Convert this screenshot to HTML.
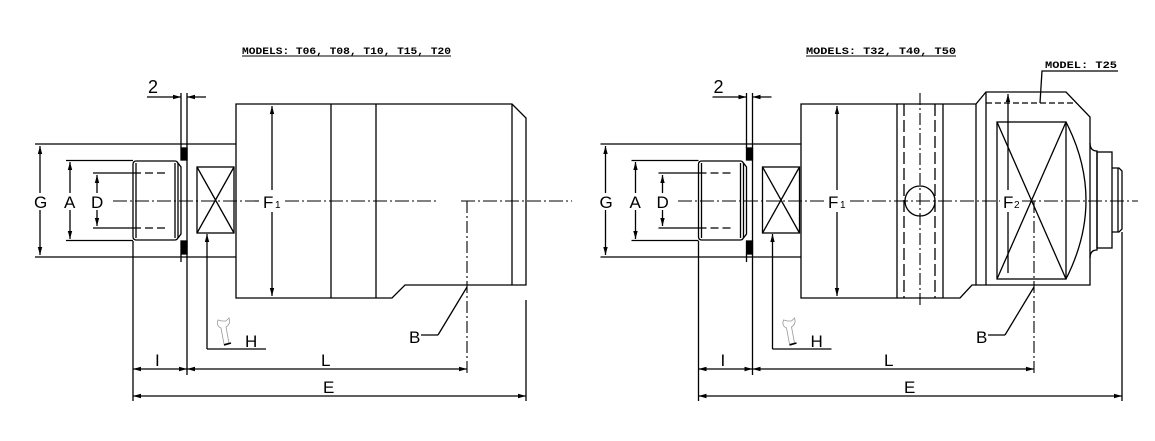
<!DOCTYPE html>
<html><head><meta charset="utf-8"><style>
html,body{margin:0;padding:0;background:#fff;}
svg{display:block;}
text{font-family:"Liberation Sans",sans-serif;fill:#000;}
.t{font-family:"Liberation Mono",monospace;font-size:10px;font-weight:bold;}
.l{font-size:17px;}
</style></head><body>
<svg width="1155" height="441" viewBox="0 0 1155 441" xmlns="http://www.w3.org/2000/svg">
<defs>
<marker id="a" viewBox="0 0 8 6" refX="8" refY="3" markerWidth="8" markerHeight="6" markerUnits="userSpaceOnUse" orient="auto-start-reverse"><path d="M0,0.8 L8,3 L0,5.2 Z" fill="#000"/></marker>
</defs>
<g stroke="#000" stroke-width="1.3" fill="none">
<g id="c1">
<line x1="35" y1="144" x2="236" y2="144"/>
<line x1="35" y1="257" x2="236" y2="257"/>
<line x1="40" y1="146" x2="40" y2="255" marker-start="url(#a)" marker-end="url(#a)"/>
<line x1="66" y1="160.5" x2="133" y2="160.5"/>
<line x1="66" y1="240.5" x2="133" y2="240.5"/>
<line x1="70" y1="162" x2="70" y2="239" marker-start="url(#a)" marker-end="url(#a)"/>
<line x1="93" y1="173" x2="133" y2="173"/>
<line x1="93" y1="228" x2="133" y2="228"/>
<line x1="133" y1="173" x2="167" y2="173" stroke-dasharray="8 4"/>
<line x1="133" y1="228" x2="167" y2="228" stroke-dasharray="8 4"/>
<line x1="97" y1="175" x2="97" y2="226" marker-start="url(#a)" marker-end="url(#a)"/>
<rect x="133" y="161" width="45" height="79" rx="3"/>
<line x1="136" y1="163" x2="136" y2="238"/>
<line x1="175" y1="163" x2="175" y2="238"/>
<path d="M178,163 L181,167 V234 L178,238"/>
<line x1="181" y1="93" x2="181" y2="148"/>
<line x1="181" y1="254" x2="181" y2="262"/>
<line x1="187" y1="93" x2="187" y2="375"/>
<rect x="181" y="148" width="6" height="12" fill="#000"/>
<rect x="181" y="241" width="6" height="13" fill="#000"/>
<line x1="147" y1="97" x2="181" y2="97" marker-end="url(#a)"/>
<line x1="206" y1="97" x2="187" y2="97" marker-end="url(#a)"/>
<rect x="197" y="167" width="37" height="66"/>
<line x1="197" y1="167" x2="234" y2="233"/>
<line x1="234" y1="167" x2="197" y2="233"/>
<line x1="207" y1="349" x2="207" y2="234" marker-end="url(#a)"/>
<line x1="207" y1="349" x2="266" y2="349"/>
<path d="M218,320 Q216,326 221,328 L224,344 L229,343 L226,327 Q231,324 229,318 L226,321 L222,321 Z" stroke="#999" stroke-width="0.8"/>
<line x1="224" y1="345" x2="231" y2="343" stroke-width="1.6"/>
<line x1="133" y1="241" x2="133" y2="401"/>
<line x1="133" y1="369" x2="187" y2="369" marker-start="url(#a)" marker-end="url(#a)"/>
</g>
<line x1="113" y1="201" x2="262" y2="201" stroke-dasharray="14 3 2 3" stroke-width="1.1"/>
<line x1="285" y1="201" x2="436" y2="201" stroke-dasharray="14 3 2 3" stroke-width="1.1"/>
<line x1="461" y1="201" x2="572" y2="201" stroke-dasharray="14 3 2 3" stroke-width="1.1"/>
<path d="M236,104 H512 L526,118 V285 H405 L392,298 H236 Z"/>
<line x1="512" y1="104" x2="512" y2="285"/>
<line x1="331" y1="104" x2="331" y2="298"/>
<line x1="376" y1="104" x2="376" y2="298"/>
<line x1="272" y1="106" x2="272" y2="190" marker-start="url(#a)"/>
<line x1="272" y1="212" x2="272" y2="296" marker-end="url(#a)"/>
<line x1="467" y1="201" x2="467" y2="375" stroke-dasharray="12 3 2 3" stroke-width="1.1"/>
<path d="M438,335 L467,287"/>
<line x1="421" y1="335" x2="438" y2="335"/>
<line x1="526" y1="300" x2="526" y2="401"/>
<line x1="187" y1="369" x2="467" y2="369" marker-start="url(#a)" marker-end="url(#a)"/>
<line x1="133" y1="396" x2="526" y2="396" marker-start="url(#a)" marker-end="url(#a)"/>
<g transform="translate(565.5 0)">
<line x1="35" y1="144" x2="236" y2="144"/>
<line x1="35" y1="257" x2="236" y2="257"/>
<line x1="40" y1="146" x2="40" y2="255" marker-start="url(#a)" marker-end="url(#a)"/>
<line x1="66" y1="160.5" x2="133" y2="160.5"/>
<line x1="66" y1="240.5" x2="133" y2="240.5"/>
<line x1="70" y1="162" x2="70" y2="239" marker-start="url(#a)" marker-end="url(#a)"/>
<line x1="93" y1="173" x2="133" y2="173"/>
<line x1="93" y1="228" x2="133" y2="228"/>
<line x1="133" y1="173" x2="167" y2="173" stroke-dasharray="8 4"/>
<line x1="133" y1="228" x2="167" y2="228" stroke-dasharray="8 4"/>
<line x1="97" y1="175" x2="97" y2="226" marker-start="url(#a)" marker-end="url(#a)"/>
<rect x="133" y="161" width="45" height="79" rx="3"/>
<line x1="136" y1="163" x2="136" y2="238"/>
<line x1="175" y1="163" x2="175" y2="238"/>
<path d="M178,163 L181,167 V234 L178,238"/>
<line x1="181" y1="93" x2="181" y2="148"/>
<line x1="181" y1="254" x2="181" y2="262"/>
<line x1="187" y1="93" x2="187" y2="375"/>
<rect x="181" y="148" width="6" height="12" fill="#000"/>
<rect x="181" y="241" width="6" height="13" fill="#000"/>
<line x1="147" y1="97" x2="181" y2="97" marker-end="url(#a)"/>
<line x1="206" y1="97" x2="187" y2="97" marker-end="url(#a)"/>
<rect x="197" y="167" width="37" height="66"/>
<line x1="197" y1="167" x2="234" y2="233"/>
<line x1="234" y1="167" x2="197" y2="233"/>
<line x1="207" y1="349" x2="207" y2="234" marker-end="url(#a)"/>
<line x1="207" y1="349" x2="266" y2="349"/>
<path d="M218,320 Q216,326 221,328 L224,344 L229,343 L226,327 Q231,324 229,318 L226,321 L222,321 Z" stroke="#999" stroke-width="0.8"/>
<line x1="224" y1="345" x2="231" y2="343" stroke-width="1.6"/>
<line x1="133" y1="241" x2="133" y2="401"/>
<line x1="133" y1="369" x2="187" y2="369" marker-start="url(#a)" marker-end="url(#a)"/>
</g>
<line x1="678" y1="201" x2="827" y2="201" stroke-dasharray="14 3 2 3" stroke-width="1.1"/>
<line x1="850" y1="201" x2="1000" y2="201" stroke-dasharray="14 3 2 3" stroke-width="1.1"/>
<line x1="1022" y1="201" x2="1138" y2="201" stroke-dasharray="14 3 2 3" stroke-width="1.1"/>
<path d="M801,104 H976 L986,92 H1066 L1090,117 V285 H972 L960,298 H801 Z"/>
<line x1="976" y1="104" x2="976" y2="285"/>
<line x1="986" y1="92" x2="986" y2="285"/>
<line x1="986" y1="103" x2="1077" y2="103" stroke-dasharray="6 3"/>
<line x1="897" y1="104" x2="897" y2="298"/>
<line x1="943" y1="104" x2="943" y2="298"/>
<line x1="904" y1="104" x2="904" y2="298" stroke-dasharray="12 4"/>
<line x1="935" y1="104" x2="935" y2="298" stroke-dasharray="12 4"/>
<line x1="920" y1="93" x2="920" y2="308" stroke-dasharray="12 3 2 3" stroke-width="1.1"/>
<circle cx="920" cy="201" r="15"/>
<line x1="837" y1="106" x2="837" y2="190" marker-start="url(#a)"/>
<line x1="837" y1="212" x2="837" y2="296" marker-end="url(#a)"/>
<rect x="997" y="122" width="69" height="157"/>
<line x1="997" y1="122" x2="1066" y2="279"/>
<line x1="1066" y1="122" x2="997" y2="279"/>
<path d="M1066,122 Q1106,200 1066,279"/>
<line x1="1008" y1="94" x2="1008" y2="190" marker-start="url(#a)"/>
<line x1="1008" y1="212" x2="1008" y2="273"/>
<path d="M1090,143 Q1090,151 1097,151 V250 Q1090,250 1090,258"/>
<rect x="1097" y="152" width="15" height="96"/>
<path d="M1112,168 H1119 L1122,171 V229 L1119,232 H1112"/>
<line x1="1118" y1="168" x2="1118" y2="232"/>
<line x1="1034" y1="201" x2="1034" y2="375" stroke-dasharray="12 3 2 3" stroke-width="1.1"/>
<path d="M1005,335 L1034,287"/>
<line x1="988" y1="335" x2="1005" y2="335"/>
<line x1="1122" y1="232" x2="1122" y2="401"/>
<line x1="752.5" y1="369" x2="1034" y2="369" marker-start="url(#a)" marker-end="url(#a)"/>
<line x1="698.5" y1="396" x2="1122" y2="396" marker-start="url(#a)" marker-end="url(#a)"/>
<path d="M1040,103 L1042,71 H1118"/>
<line x1="242" y1="56" x2="451" y2="56" stroke-width="1.1"/>
<line x1="806" y1="56" x2="956" y2="56" stroke-width="1.1"/>
</g>
<!-- white gaps behind labels -->
<g fill="#fff">
<rect x="33" y="193" width="14" height="17"/><rect x="63" y="193" width="14" height="17"/><rect x="90" y="193" width="14" height="17"/>
<rect x="598.5" y="193" width="14" height="17"/><rect x="628.5" y="193" width="14" height="17"/><rect x="655.5" y="193" width="14" height="17"/>
</g>
<text class="t" x="242" y="54" textLength="209" lengthAdjust="spacingAndGlyphs">MODELS: T06, T08, T10, T15, T20</text>
<text class="t" x="806" y="54" textLength="150" lengthAdjust="spacingAndGlyphs">MODELS: T32, T40, T50</text>
<text class="t" x="1045" y="68" textLength="72" lengthAdjust="spacingAndGlyphs">MODEL: T25</text>
<g class="l">
<text x="148" y="93" font-size="18">2</text>
<text x="34" y="208">G</text><text x="64" y="208">A</text><text x="91" y="208">D</text>
<text x="263" y="208">F</text><text x="275" y="208" font-size="10">1</text>
<text x="245" y="347">H</text>
<text x="155" y="366">I</text>
<text x="321" y="366">L</text>
<text x="323" y="393">E</text>
<text x="409" y="343" font-family="Liberation Serif">B</text>
<text x="713.5" y="93" font-size="18">2</text>
<text x="599.5" y="208">G</text><text x="629.5" y="208">A</text><text x="656.5" y="208">D</text>
<text x="828" y="208">F</text><text x="840" y="208" font-size="10">1</text>
<text x="1003" y="208">F</text><text x="1014" y="208" font-size="10">2</text>
<text x="810.5" y="347">H</text>
<text x="720.5" y="366">I</text>
<text x="884" y="366">L</text>
<text x="904" y="393">E</text>
<text x="976" y="343" font-family="Liberation Serif">B</text>
</g>
</svg>
</body></html>
